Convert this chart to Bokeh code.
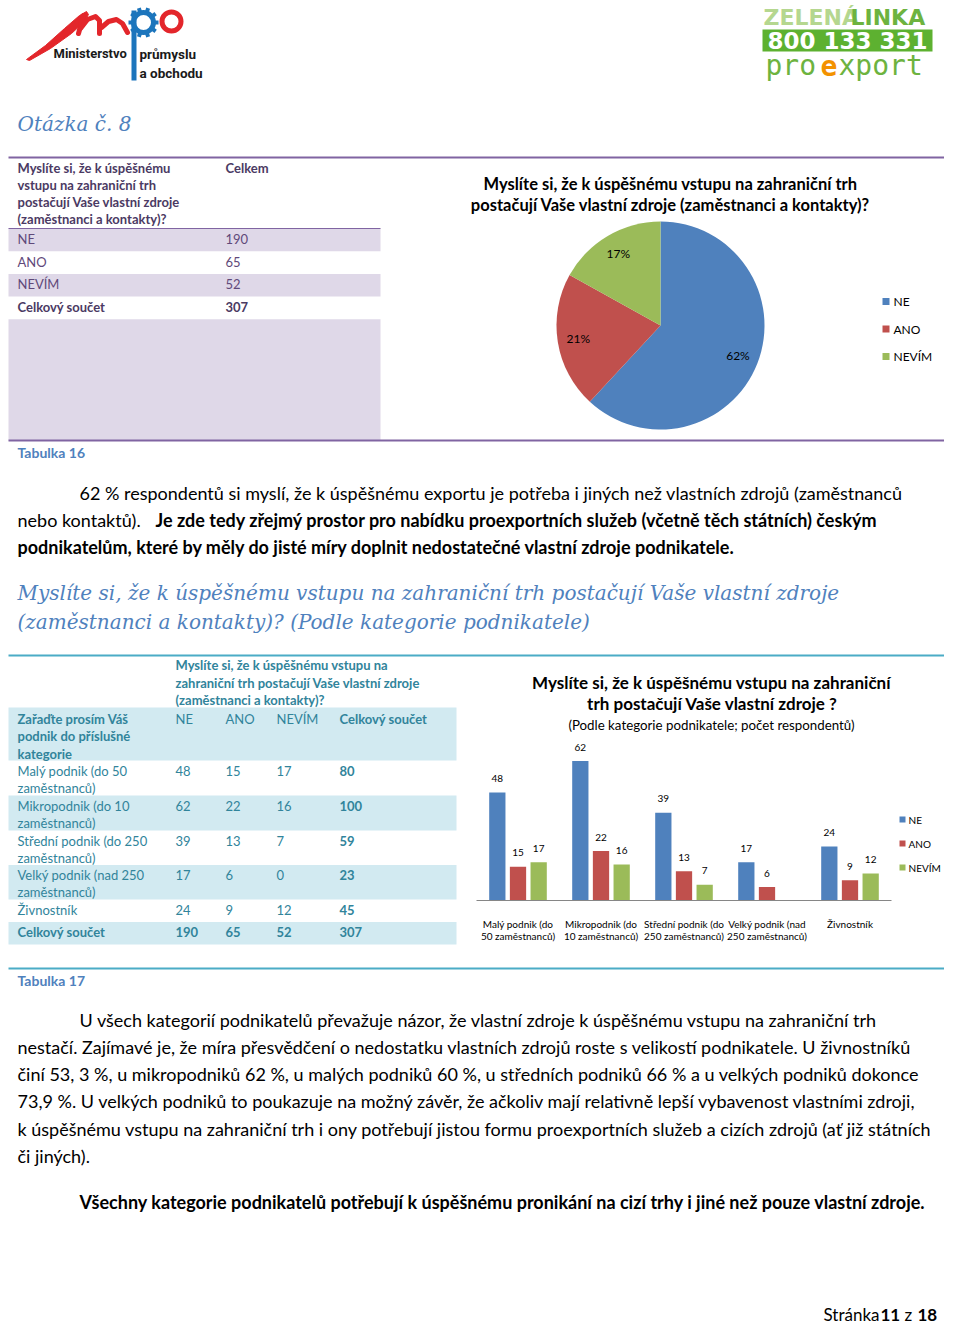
import math
from bokeh.plotting import figure
from bokeh.models import Range1d
from bokeh.core.properties import value
from bokeh.embed import file_html
from bokeh.resources import INLINE

# ---------------- data ----------------
answers = ["NE", "ANO", "NEVÍM"]
answer_counts = [190, 65, 52]
answer_colors = ["#4F81BD", "#C0504D", "#9BBB59"]

categories_table_lines = [["Malý podnik (do 50", "zaměstnanců)"],
                          ["Mikropodnik (do 10", "zaměstnanců)"],
                          ["Střední podnik (do 250", "zaměstnanců)"],
                          ["Velký podnik (nad 250", "zaměstnanců)"],
                          ["Živnostník"]]
categories_chart_lines = [["Malý podnik (do", "50 zaměstnanců)"],
                          ["Mikropodnik (do", "10 zaměstnanců)"],
                          ["Střední podnik (do", "250 zaměstnanců)"],
                          ["Velký podnik (nad", "250 zaměstnanců)"],
                          ["Živnostník"]]
ne_counts = [48, 62, 39, 17, 24]
ano_counts = [15, 22, 13, 6, 9]
nevim_counts = [17, 16, 7, 0, 12]

total_label = "Celkový součet"
table1_question_lines = ["Myslíte si, že k úspěšnému", "vstupu na zahraniční trh",
                         "postačují Vaše vlastní zdroje", "(zaměstnanci a kontakty)?"]
table1_value_header = "Celkem"
table2_question_lines = ["Myslíte si, že k úspěšnému vstupu na",
                         "zahraniční trh postačují Vaše vlastní zdroje",
                         "(zaměstnanci a kontakty)?"]
table2_row_header_lines = ["Zařaďte prosím Váš", "podnik do příslušné", "kategorie"]

pie_title_lines = ["Myslíte si, že k úspěšnému vstupu na zahraniční trh",
                   "postačují Vaše vlastní zdroje (zaměstnanci a kontakty)?"]
bar_title_lines = ["Myslíte si, že k úspěšnému vstupu na zahraniční",
                   "trh postačují Vaše vlastní zdroje ?"]
bar_subtitle = "(Podle kategorie podnikatele; počet respondentů)"

heading1 = "Otázka č. 8"
heading2_lines = ["Myslíte si, že k úspěšnému vstupu na zahraniční trh postačují Vaše vlastní zdroje",
                  "(zaměstnanci a kontakty)? (Podle kategorie podnikatele)"]
para1_line1 = "62 % respondentů si myslí, že k úspěšnému exportu je potřeba i jiných než vlastních zdrojů (zaměstnanců"
para1_line2_normal = "nebo kontaktů)."
para1_line2_bold = "Je zde tedy zřejmý prostor pro nabídku proexportních služeb (včetně těch státních) českým"
para1_line3_bold = "podnikatelům, které by měly do jisté míry doplnit nedostatečné vlastní zdroje podnikatele."
para2_lines = ["U všech kategorií podnikatelů převažuje názor, že vlastní zdroje k úspěšnému vstupu na zahraniční trh",
               "nestačí. Zajímavé je, že míra přesvědčení o nedostatku vlastních zdrojů roste s velikostí podnikatele. U živnostníků",
               "činí 53, 3 %, u mikropodniků 62 %, u malých podniků 60 %, u středních podniků 66 % a u velkých podniků dokonce",
               "73,9 %. U velkých podniků to poukazuje na možný závěr, že ačkoliv mají relativně lepší vybavenost vlastními zdroji,",
               "k úspěšnému vstupu na zahraniční trh i ony potřebují jistou formu proexportních služeb a cizích zdrojů (ať již státních",
               "či jiných)."]
para2_bold = "Všechny kategorie podnikatelů potřebují k úspěšnému pronikání na cizí trhy i jiné než pouze vlastní zdroje."
caption1 = "Tabulka 16"
caption2 = "Tabulka 17"
footer_parts = [("Stránka", "normal"), ("11", "bold"), ("z", "normal"), ("18", "bold")]

# ---------------- figure (picture coordinates, 1 unit = 1 px) ----------------
FW, FH = 944, 1325
p = figure(width=FW, height=FH, x_range=Range1d(0, FW), y_range=Range1d(FH, 0),
           output_backend="svg", toolbar_location=None, min_border=0,
           x_axis_location=None, y_axis_location=None)
p.outline_line_color = None
p.xgrid.grid_line_color = None
p.ygrid.grid_line_color = None
p.background_fill_color = "white"
p.border_fill_color = "white"

# bar chart scale: 83 px per category starting at x 476, 2.25 px per respondent, baseline y 900
BX0, BXW, BY0, BYS = 476, 83.0, 900, 2.25
p.extra_x_ranges["bx"] = Range1d((0 - BX0) / BXW, (FW - BX0) / BXW)
p.extra_y_ranges["by"] = Range1d((BY0 - FH) / BYS, (BY0 - 0) / BYS)
# pie scale: unit radius = 104 px, centre at (660, 325)
PCX, PCY, PR = 660, 325, 104.0
p.extra_x_ranges["px"] = Range1d((0 - PCX) / PR, (FW - PCX) / PR)
p.extra_y_ranges["py"] = Range1d((PCY - FH) / PR, (PCY - 0) / PR)

BODY = "Lato"


def T(x, y, s, size=13, color="#000000", style="normal", font=BODY, align="left",
      baseline="middle", **kw):
    xs = x if isinstance(x, list) else [x]
    ys = y if isinstance(y, list) else [y]
    ss = s if isinstance(s, list) else [s]
    p.text(x=xs, y=ys, text=ss, text_font=value(font), text_font_size=f"{size}px",
           text_color=color, text_font_style=style, text_align=align,
           text_baseline=baseline, **kw)


def box(l, r, t, b, color):
    p.quad(left=[l], right=[r], top=[t], bottom=[b], fill_color=color, line_color=None)


def hline(x0, x1, y, color, w=1.0):
    p.segment(x0=[x0], x1=[x1], y0=[y], y1=[y], line_color=color, line_width=w)


# ---------------- header logos ----------------
RED = "#E3262B"
MPOBLUE = "#1C75BC"
p.patch(x=[26, 45, 64, 79, 86, 88, 84, 71, 50, 29], y=[59, 45, 28, 15, 11, 14, 21, 33, 48, 60],
        fill_color=RED, line_color=RED, line_width=1)
p.multi_line(xs=[[83, 78], [80, 87, 95, 99, 99], [101, 108, 116, 122, 127]],
             ys=[[15, 33], [28, 19, 16, 20, 33], [27, 21, 19, 23, 32]],
             line_color=RED, line_width=5, line_cap="round", line_join="round")
box(131, 136, 10, 80, MPOBLUE)
p.annulus(x=[143], y=[22], inner_radius=7.5, outer_radius=12.5, fill_color=MPOBLUE, line_color=None)
teeth = [i * math.pi / 5 for i in range(10)]
p.rect(x=[143 + 13 * math.cos(a) for a in teeth], y=[22 + 13 * math.sin(a) for a in teeth],
       width=4, height=4, angle=[-a for a in teeth], fill_color=MPOBLUE, line_color=None)
p.annulus(x=[171], y=[21], inner_radius=7, outer_radius=12, fill_color=RED, line_color=None)
T(53, 53, "Ministerstvo", size=13, style="bold", font="Roboto", color="#1a1a1a")
T(139, 53, "průmyslu", size=13.5, style="bold", font="Roboto", color="#1a1a1a")
T(139, 72, "a obchodu", size=13.5, style="bold", font="Roboto", color="#1a1a1a")

T(763, 17, "ZELENÁ", size=22, style="bold", font="DejaVu Sans", color="#B5D78F")
T(850, 17, "LINKA", size=22, style="bold", font="DejaVu Sans", color="#6DB33F")
box(762, 932, 29, 51, "#5DB130")
T(847, 40, "800 133 331", size=23, style="bold", font="DejaVu Sans", color="white", align="center")
T(765, 65, "pro", size=28, font="DejaVu Sans Mono", color="#6DB33F")
T(820, 65, "e", size=28, font="DejaVu Sans Mono", color="#F39200", style="bold")
T(838, 65, "xport", size=28, font="DejaVu Sans Mono", color="#6DB33F")

# ---------------- heading ----------------
HEAD = "#4F81BD"
T(17, 123, heading1, size=20, style="italic", font="DejaVu Serif", color=HEAD)

# ---------------- table 16 ----------------
PURPLE = "#8064A2"
P_BAND = "#DFD8E8"
P_TEXT = "#5F497A"
P_HEAD = "#4B3A63"
t1_row_top = 228
t1_row_h = 22.7
for i in range(len(answers)):
    if i % 2 == 0:
        box(8, 380, t1_row_top + i * t1_row_h, t1_row_top + (i + 1) * t1_row_h, P_BAND)
box(8, 380, t1_row_top + 4 * t1_row_h, 440, P_BAND)
hline(8, FW, 157, PURPLE, 2)
hline(8, 380, 228, PURPLE, 1)
hline(8, FW, 440, PURPLE, 2)
T([17] * 4, [167 + 17.3 * k for k in range(4)], table1_question_lines, size=13, style="bold", color=P_HEAD)
T(225, 167, table1_value_header, size=13, style="bold", color=P_HEAD)
for i, (lab, cnt) in enumerate(zip(answers, answer_counts)):
    yy = t1_row_top + i * t1_row_h + 10.5
    T(17, yy, lab, size=13, color=P_TEXT)
    T(225, yy, str(cnt), size=13, color=P_TEXT)
yy = t1_row_top + 3 * t1_row_h + 10.5
T(17, yy, total_label, size=13, style="bold", color=P_HEAD)
T(225, yy, str(sum(answer_counts)), size=13, style="bold", color=P_HEAD)
T(17, 452, caption1, size=14, style="bold", color=HEAD)

# ---------------- pie chart ----------------
T([670, 670], [183, 204], pie_title_lines, size=16.5, style="bold", align="center")
total = sum(answer_counts)
cum = 0.0
for lab, cnt, col in zip(answers, answer_counts, answer_colors):
    frac = cnt / total
    a_start = math.pi / 2 - 2 * math.pi * (cum + frac)
    a_end = math.pi / 2 - 2 * math.pi * cum
    p.wedge(x=[0], y=[0], radius=1, start_angle=a_start, end_angle=a_end, direction="anticlock",
            fill_color=col, line_color=None, x_range_name="px", y_range_name="py")
    mid = math.pi / 2 - 2 * math.pi * (cum + frac / 2)
    p.text(x=[0.8 * math.cos(mid)], y=[0.8 * math.sin(mid)], text=[f"{round(100 * frac)}%"],
           text_font=value(BODY), text_font_size="12px", text_color="#000000",
           text_align="center", text_baseline="middle", x_range_name="px", y_range_name="py")
    cum += frac
for k, (lab, col) in enumerate(zip(answers, answer_colors)):
    yy = 301 + 27.5 * k
    p.rect(x=[885.5], y=[yy], width=7, height=7, fill_color=col, line_color=None)
    T(893, yy, lab, size=12)

# ---------------- paragraph 1 ----------------
BS = 18
T(79, 492, para1_line1, size=BS)
T(17, 519, para1_line2_normal, size=BS)
T(155, 519, para1_line2_bold, size=BS, style="bold")
T(17, 546, para1_line3_bold, size=BS, style="bold")
T([17, 17], [592, 621], heading2_lines, size=20, style="italic", font="DejaVu Serif", color=HEAD)

# ---------------- table 17 ----------------
TEAL = "#4BACC6"
T_BAND = "#D2EAF1"
T_TEXT = "#31849B"
hline(8, FW, 655, TEAL, 2)
hline(8, FW, 968, TEAL, 2)
box(8, 456, 707, 760, T_BAND)
T([175] * 3, [664, 682, 699], table2_question_lines, size=13, style="bold", color=T_TEXT)
T([17] * 3, [718, 735, 753], table2_row_header_lines, size=13, style="bold", color=T_TEXT)
col_x = [175, 225, 276]
for cx, lab in zip(col_x, answers):
    T(cx, 718, lab, size=13, color=T_TEXT)
T(339, 718, total_label, size=13, style="bold", color=T_TEXT)
row_tops = [760, 795, 830, 864.5, 899, 921.5]
row_bottoms = [795, 830, 864.5, 899, 921.5, 944]
n_cat = len(ne_counts)
for i in range(n_cat + 1):
    if i % 2 == 1:
        box(8, 456, row_tops[i], row_bottoms[i], T_BAND)
for i in range(n_cat):
    y0 = row_tops[i] + 10
    lines = categories_table_lines[i]
    T([17] * len(lines), [y0 + 17.3 * k for k in range(len(lines))], lines, size=13, color=T_TEXT)
    vals = [ne_counts[i], ano_counts[i], nevim_counts[i]]
    for cx, v in zip(col_x, vals):
        T(cx, y0, str(v), size=13, color=T_TEXT)
    T(339, y0, str(sum(vals)), size=13, style="bold", color=T_TEXT)
y0 = row_tops[n_cat] + 10
T(17, y0, total_label, size=13, style="bold", color=T_TEXT)
col_totals = [sum(ne_counts), sum(ano_counts), sum(nevim_counts)]
for cx, v in zip(col_x, col_totals):
    T(cx, y0, str(v), size=13, style="bold", color=T_TEXT)
T(339, y0, str(sum(col_totals)), size=13, style="bold", color=T_TEXT)
T(17, 980, caption2, size=14, style="bold", color=HEAD)

# ---------------- bar chart ----------------
T([711, 712], [682, 703], bar_title_lines, size=17, style="bold", align="center")
T(711, 724, bar_subtitle, size=13.3, align="center")
bar_w = 0.196
offsets = [-0.249, 0.0, 0.249]
for series, col, off in zip([ne_counts, ano_counts, nevim_counts], answer_colors, offsets):
    xs = [i + 0.5 + off for i in range(n_cat)]
    p.vbar(x=xs, top=series, bottom=0, width=bar_w, fill_color=col, line_color=None,
           x_range_name="bx", y_range_name="by")
    lx = [x for x, v in zip(xs, series) if v > 0]
    lv = [v for v in series if v > 0]
    p.text(x=lx, y=lv, text=[str(v) for v in lv], y_offset=-14, text_font=value(BODY),
           text_font_size="10px", text_color="#000000", text_align="center",
           text_baseline="middle", x_range_name="bx", y_range_name="by")
p.segment(x0=[0], x1=[n_cat], y0=[0], y1=[0], line_color="#868686", line_width=1,
          x_range_name="bx", y_range_name="by")
for i, lines in enumerate(categories_chart_lines):
    for k, ln in enumerate(lines):
        p.text(x=[i + 0.5], y=[0], text=[ln], y_offset=23 + 12.5 * k, text_font=value(BODY),
               text_font_size="10px", text_color="#000000", text_align="center",
               text_baseline="middle", x_range_name="bx", y_range_name="by")
for k, (lab, col) in enumerate(zip(answers, answer_colors)):
    yy = 819 + 24 * k
    p.rect(x=[902], y=[yy], width=6, height=6, fill_color=col, line_color=None)
    T(908, yy, lab, size=10)

# ---------------- paragraph 2 ----------------
para2_y = [1019, 1046, 1073, 1100, 1128, 1155]
para2_x = [79, 17, 17, 17, 17, 17]
T(para2_x, para2_y, para2_lines, size=BS)
T(79, 1201, para2_bold, size=BS, style="bold")

# ---------------- footer ----------------
foot_x = [823, 880, 904, 917]
for (s, st), fx in zip(footer_parts, foot_x):
    T(fx, 1314, s, size=17, style=st)

open("out.html", "w").write(file_html(p, INLINE))
